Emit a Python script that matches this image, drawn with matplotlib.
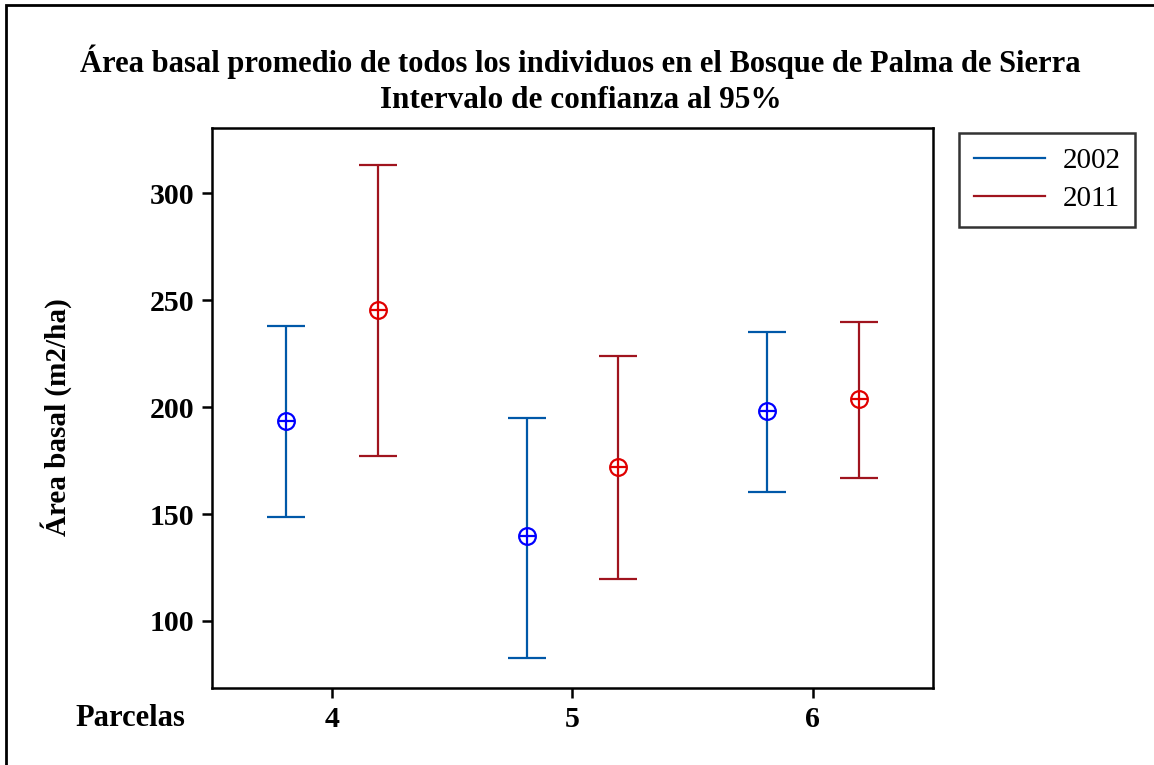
import matplotlib
matplotlib.use("Agg")
import matplotlib.pyplot as plt
from matplotlib.patches import Rectangle
from matplotlib.lines import Line2D

# datos: media e intervalo de confianza al 95%
parcelas = [4, 5, 6]
media_2002 = [193.5, 139.7, 198.1]
sup_2002 = [237.9, 194.9, 235.0]
inf_2002 = [148.6, 82.7, 160.3]
media_2011 = [245.3, 172.0, 203.7]
sup_2011 = [313.1, 223.8, 239.7]
inf_2011 = [177.1, 119.6, 166.8]
yticks = [100, 150, 200, 250, 300]

plt.rcParams['font.family'] = ['Liberation Serif', 'DejaVu Serif']

fig = plt.figure(figsize=(11.54, 7.65), dpi=100)
ax = fig.add_axes([0.1837, 0.1007, 0.6248, 0.732])

# marco exterior (solo se ven arriba e izquierda)
fig.patches.append(Rectangle((6 / 1154, -0.1), 1.2, 1.1 - 5 / 765,
                             transform=fig.transFigure, fill=False,
                             edgecolor='black', linewidth=2))

desp = 0.19
series = [
    (media_2002, sup_2002, inf_2002, -desp, '#0058A8', '#0000FF'),
    (media_2011, sup_2011, inf_2011, desp, '#A0141E', '#E00000'),
]
for media, sup, inf, dx, col_linea, col_marca in series:
    xs = [p + dx for p in parcelas]
    err = [[m - i for m, i in zip(media, inf)], [s - m for m, s in zip(media, sup)]]
    ax.errorbar(xs, media, yerr=err, fmt='none', ecolor=col_linea,
                elinewidth=1.6, capsize=14, capthick=1.6)
    ax.plot(xs, media, 'o', ms=12, mfc='white', mec=col_marca, mew=1.6, ls='none')
    ax.plot(xs, media, '+', ms=11, mec=col_marca, mew=1.6, ls='none')

ax.set_xlim(3.5, 6.5)
ax.set_ylim(68.7, 330.4)
ax.set_xticks(parcelas)
ax.set_xticklabels([str(p) for p in parcelas])
ax.set_yticks(yticks)
ax.tick_params(direction='out', length=7, width=1.8, labelsize=21.5, pad=6)
for lab in ax.get_xticklabels() + ax.get_yticklabels():
    lab.set_fontweight('bold')
for sp in ax.spines.values():
    sp.set_linewidth(1.8)

ax.set_ylabel('Área basal (m2/ha)', fontsize=21, fontweight='bold')
ax.yaxis.set_label_coords(-0.194, 0.484)
fig.text(75 / 1154, 1 - 718 / 765, 'Parcelas', fontsize=22, fontweight='bold',
         ha='left', va='center')

fig.text(0.503, 1 - 62 / 765,
         'Área basal promedio de todos los individuos en el Bosque de Palma de Sierra',
         fontsize=22, fontweight='bold', ha='center', va='center')
fig.text(0.503, 1 - 101 / 765, 'Intervalo de confianza al 95%',
         fontsize=22.5, fontweight='bold', ha='center', va='center')

handles = [Line2D([], [], color='#0058A8', lw=1.6),
           Line2D([], [], color='#A0141E', lw=1.6)]
leg = fig.legend(handles, ['2002', '2011'], loc='upper left',
                 bbox_to_anchor=(959 / 1154, 1 - 133 / 765), borderaxespad=0,
                 fontsize=21, frameon=True, fancybox=False, edgecolor='black',
                 handlelength=2.45, handletextpad=0.6, borderpad=0.5,
                 labelspacing=0.4)
leg.get_frame().set_linewidth(1.8)

fig.savefig('out.png', dpi=100)
